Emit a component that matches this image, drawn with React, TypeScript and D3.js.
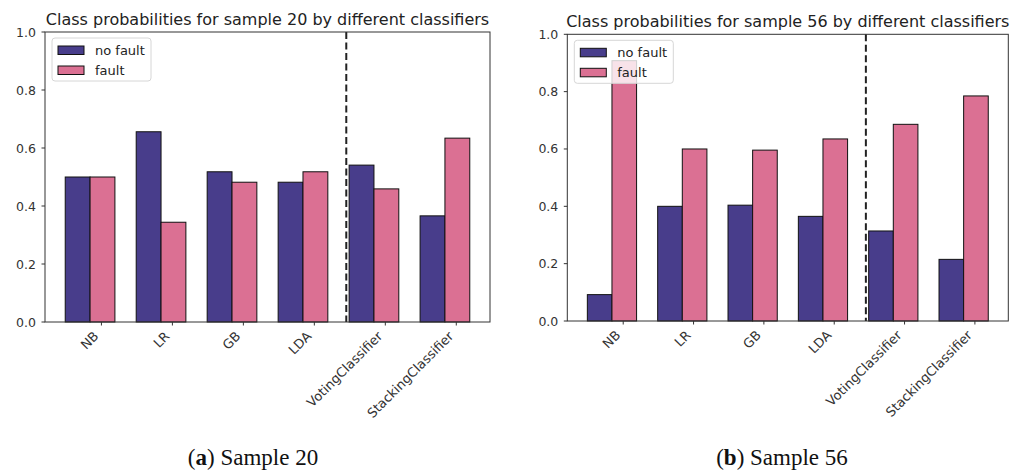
import React from 'react';
import * as d3 from 'd3';

// Classifier names along the x axis
const classifiers = ['NB', 'LR', 'GB', 'LDA', 'VotingClassifier', 'StackingClassifier'];
const seriesNames = ['no fault', 'fault'];
const seriesColors = ['#483D8B', '#DB7093'];

// Predicted class probabilities per classifier
const sample20NoFault = [0.5, 0.656, 0.518, 0.482, 0.541, 0.366];
const sample20Fault = [0.5, 0.344, 0.482, 0.518, 0.459, 0.634];
const sample56NoFault = [0.092, 0.4, 0.404, 0.365, 0.314, 0.215];
const sample56Fault = [0.908, 0.6, 0.596, 0.635, 0.686, 0.785];

const yTicks = [0, 0.2, 0.4, 0.6, 0.8, 1.0];
const panelTitles = [
  'Class probabilities for sample 20 by different classifiers',
  'Class probabilities for sample 56 by different classifiers',
];
const captionLetters = ['a', 'b'];
const captionTexts = ['Sample 20', 'Sample 56'];

// Separates the base learners from the ensemble methods
const ensembleDivider = 3.45;

const BAR_W = 0.35;
const GROUP_SHIFT = -0.16;
const FONT = '"DejaVu Sans", sans-serif';

type Box = { left: number; right: number; top: number; bottom: number };

function Panel({ box, noFault, fault, title, letter, caption, captionX }: {
  box: Box; noFault: number[]; fault: number[]; title: string; letter: string; caption: string; captionX: number;
}) {
  const idx = classifiers.map((_, i) => i);
  // bar edges, then a 5% margin on both sides
  const lo = GROUP_SHIFT - BAR_W;
  const hi = classifiers.length - 1 + GROUP_SHIFT + BAR_W;
  const pad = (hi - lo) * 0.05;
  const x = d3.scaleLinear().domain([lo - pad, hi + pad]).range([box.left, box.right]);
  const y = d3.scaleLinear().domain([0, 1]).range([box.bottom, box.top]);
  const series = [noFault, fault];
  const lg = { x: box.left + 7, y: box.top + 6, w: 99, h: 43 };

  return (
    <g>
      <text x={(box.left + box.right) / 2} y={box.top - 7} textAnchor="middle"
        fontFamily={FONT} fontSize={16} fill="#222">{title}</text>

      {series.map((vals, s) =>
        idx.map(i => {
          const x0 = x(i + GROUP_SHIFT + (s === 0 ? -BAR_W : 0));
          const x1 = x(i + GROUP_SHIFT + (s === 0 ? 0 : BAR_W));
          return (
            <rect key={`${s}-${i}`} x={x0} y={y(vals[i])} width={x1 - x0} height={y(0) - y(vals[i])}
              fill={seriesColors[s]} stroke="#111" strokeWidth={1} />
          );
        })
      )}

      <line x1={x(ensembleDivider)} x2={x(ensembleDivider)} y1={y(1)} y2={y(0)}
        stroke="#222" strokeWidth={2} strokeDasharray="7,3.5" />

      <rect x={box.left} y={box.top} width={box.right - box.left} height={box.bottom - box.top}
        fill="none" stroke="#333" strokeWidth={1} />

      {yTicks.map(t => (
        <g key={t}>
          <line x1={box.left - 3.5} x2={box.left} y1={y(t)} y2={y(t)} stroke="#333" />
          <text x={box.left - 9} y={y(t)} dy="0.36em" textAnchor="end" fontFamily={FONT}
            fontSize={12.5} fill="#333">{d3.format('.1f')(t)}</text>
        </g>
      ))}

      {classifiers.map((c, i) => {
        const tx = x(i);
        const px = tx - 2;
        const py = box.bottom + 15;
        return (
          <g key={c}>
            <line x1={tx} x2={tx} y1={box.bottom} y2={box.bottom + 3.5} stroke="#333" />
            <text x={px} y={py} textAnchor="end" transform={`rotate(-45 ${px} ${py})`}
              fontFamily={FONT} fontSize={13} fill="#333">{c}</text>
          </g>
        );
      })}

      <rect x={lg.x} y={lg.y} width={lg.w} height={lg.h} rx={3} fill="#fff" fillOpacity={0.8}
        stroke="#d6d6d6" strokeWidth={1} />
      {seriesNames.map((n, s) => (
        <g key={n}>
          <rect x={lg.x + 6} y={lg.y + 8 + s * 20} width={26} height={8.5}
            fill={seriesColors[s]} stroke="#111" strokeWidth={1} />
          <text x={lg.x + 43} y={lg.y + 12.5 + s * 20} dy="0.36em" fontFamily={FONT}
            fontSize={13} fill="#222">{n}</text>
        </g>
      ))}

      <text x={captionX} y={465} textAnchor="middle" fontFamily='"Liberation Serif", serif'
        fontSize={23} fill="#111">
        (<tspan fontWeight="bold">{letter}</tspan>) {caption}
      </text>
    </g>
  );
}

export default function App() {
  const panels: Box[] = [
    { left: 45, right: 490, top: 32, bottom: 322 },
    { left: 567.3, right: 1008.3, top: 34.3, bottom: 321 },
  ];
  const data = [[sample20NoFault, sample20Fault], [sample56NoFault, sample56Fault]];
  const captionCenters = [253, 782];
  return (
    <svg width={1016} height={472} style={{ position: 'absolute', left: 0, top: 0, background: '#fff' }}>
      <rect width={1016} height={472} fill="#fff" />
      {panels.map((b, k) => (
        <Panel key={k} box={b} noFault={data[k][0]} fault={data[k][1]} title={panelTitles[k]}
          letter={captionLetters[k]} caption={captionTexts[k]} captionX={captionCenters[k]} />
      ))}
    </svg>
  );
}
